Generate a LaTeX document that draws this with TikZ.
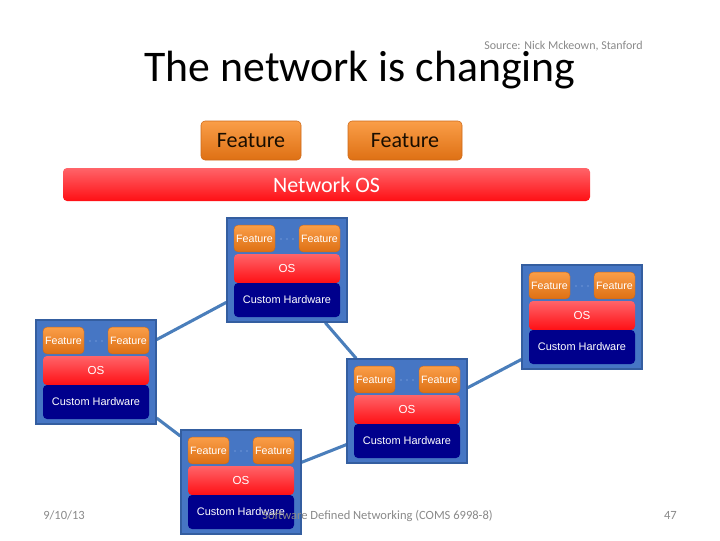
\documentclass[tikz,border=0pt]{standalone}
\usepackage{fontspec}
\setmainfont{Carlito}
\newfontfamily\swfont{Liberation Sans}
\pgfdeclarelayer{bglayer}
\pgfsetlayers{bglayer,main}
\definecolor{swfill}{RGB}{70,118,196}
\definecolor{swdraw}{RGB}{52,94,160}
\definecolor{linkc}{RGB}{74,126,187}
\definecolor{orgtop}{RGB}{250,158,72}
\definecolor{orgbot}{RGB}{222,112,20}
\definecolor{orgdraw}{RGB}{205,105,25}
\definecolor{redtop}{RGB}{255,100,105}
\definecolor{redbot}{RGB}{255,15,20}
\definecolor{navy}{RGB}{0,0,140}
\definecolor{dotc}{RGB}{110,150,215}
\definecolor{graytxt}{RGB}{137,137,137}
\tikzset{
  swbg/.style={draw=swdraw,line width=1pt,fill=swfill,minimum width=90pt,minimum height=78pt,inner sep=0pt},
  featsm/.style={rounded corners=3pt,top color=orgtop,bottom color=orgbot,draw=orgdraw,line width=0.3pt,
     minimum width=30.75pt,minimum height=20pt,inner sep=0pt,text=white,font=\swfont\fontsize{8}{9}\selectfont},
  ossm/.style={rounded corners=3pt,top color=redtop,bottom color=redbot,minimum width=79.5pt,minimum height=21.75pt,
     inner sep=0pt,text=white,font=\swfont\fontsize{8.7}{10}\selectfont},
  hwsm/.style={rounded corners=3pt,fill=navy,minimum width=79.5pt,minimum height=25.5pt,
     inner sep=0pt,text=white,font=\swfont\fontsize{8.2}{10}\selectfont},
  featbig/.style={rounded corners=3pt,top color=orgtop,bottom color=orgbot,draw=orgdraw,line width=0.4pt,
     minimum height=29.25pt,inner sep=0pt,text=black!90!orange,font=\fontsize{16.5}{18}\selectfont},
  netos/.style={rounded corners=3pt,top color=redtop,bottom color=redbot,minimum width=395.25pt,minimum height=24.75pt,
     inner sep=0pt,text=white,font=\fontsize{16.5}{18}\selectfont},
  link/.style={draw=linkc,line width=2.3pt},
  foot/.style={text=graytxt,font=\fontsize{9.4}{11}\selectfont,inner sep=0pt},
}
\newcommand\netbox[3]{%
  \node[swbg] (#1) at ({#2+60},{#3+52}) {};
  \node[featsm] (#1f1) at ({#2+27.5},{#3+20.5}) {Feature};
  \node[featsm] (#1f2) at ({#2+92.5},{#3+20.5}) {Feature};
  \node[ossm] (#1os) at ({#2+60},{#3+50.5}) {OS};
  \node[hwsm] (#1hw) at ({#2+60},{#3+82}) {Custom Hardware};
  \fill[dotc] ({#2+54},{#3+21}) circle (0.7pt) ({#2+60},{#3+21}) circle (0.7pt) ({#2+66},{#3+21}) circle (0.7pt);
}
\begin{document}
\begin{tikzpicture}[x=0.75pt,y=-0.75pt]
\useasboundingbox (0,0) rectangle (720,540);
% title
\node[anchor=base,inner sep=0pt,font=\fontsize{32.8}{35}\selectfont] (title) at (360,81.5) {The network is changing};
\node[anchor=base west,inner sep=0pt,text=graytxt,font=\fontsize{9}{10}\selectfont] (src) at (484,49) {Source: Nick Mckeown, Stanford};
% top features and network OS
\node[featbig,minimum width=75pt] (tf1) at (251,140.5) {Feature};
\node[featbig,minimum width=85.5pt] (tf2) at (405,140.5) {Feature};
\node[netos] (nos) at (326.5,184.5) {Network OS};
% switches
\netbox{s1}{227}{218}
\netbox{s2}{522}{265}
\netbox{s3}{36}{320}
\netbox{s4}{347}{359}
\netbox{s5}{181}{430}
% links
\begin{pgfonlayer}{bglayer}
\draw[link] (s3) -- (s1);
\draw[link] (s3) -- (s5);
\draw[link] (s1.306) -- (s4.134);
\draw[link] (s4.21) -- (s2.215);
\draw[link] (s5.18) -- (s4.209);
\end{pgfonlayer}
% footer
\node[foot,anchor=base west] (date) at (43,519) {9/10/13};
\node[foot,anchor=base west] (course) at (262,519) {Software Defined Networking (COMS 6998-8)};
\node[foot,anchor=base east] (page) at (677,519) {47};
\end{tikzpicture}
\end{document}
